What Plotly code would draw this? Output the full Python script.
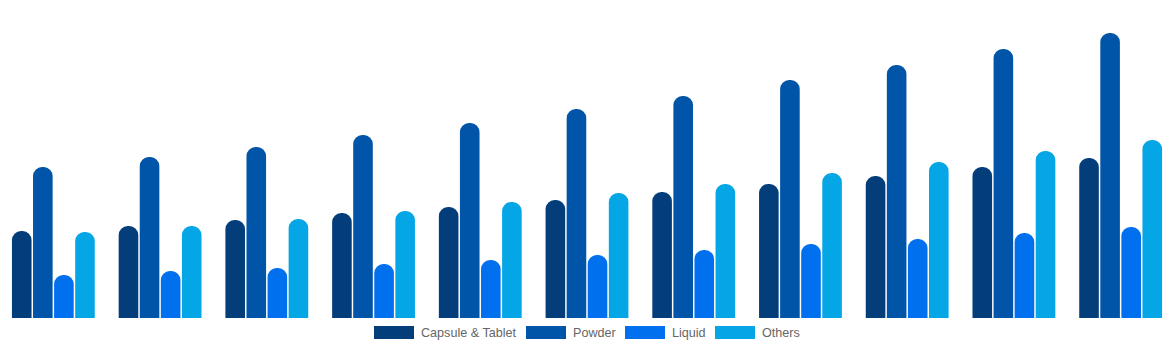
import plotly.graph_objects as go

years = ["2024", "2025", "2026", "2027", "2028", "2029", "2030", "2031", "2032", "2033", "2034"]
capsule_tablet = [8.7, 9.2, 9.8, 10.5, 11.1, 11.8, 12.6, 13.4, 14.2, 15.1, 16.0]
powder = [15.1, 16.1, 17.1, 18.3, 19.5, 20.9, 22.2, 23.8, 25.3, 26.9, 28.5]
liquid = [4.3, 4.7, 5.0, 5.4, 5.8, 6.3, 6.8, 7.4, 7.9, 8.5, 9.1]
others = [8.6, 9.2, 9.9, 10.7, 11.6, 12.5, 13.4, 14.5, 15.6, 16.7, 17.8]

series = [
    ("Capsule & Tablet", capsule_tablet, "#033E7B"),
    ("Powder", powder, "#0155A8"),
    ("Liquid", liquid, "#0170EE"),
    ("Others", others, "#05A6E6"),
]

fig = go.Figure()
for name, vals, col in series:
    fig.add_trace(go.Bar(x=years, y=vals, name=name, marker=dict(color=col, line=dict(width=0)),
                         showlegend=False))

# custom legend (wide swatches)
W = 1174.0
legend_items = [
    ("Capsule & Tablet", "#033E7B", 374, 420),
    ("Powder", "#0155A8", 526, 572),
    ("Liquid", "#0170EE", 625, 671),
    ("Others", "#05A6E6", 715, 761),
]
shapes = []
annotations = []
for name, col, sx, tx in legend_items:
    shapes.append(dict(type="rect", xref="paper", yref="paper",
                       x0=sx / W, x1=(sx + 40) / W,
                       y0=-(326 - 318) / 318.0, y1=-(339 - 318) / 318.0,
                       fillcolor=col, line=dict(width=0)))
    annotations.append(dict(text=name, xref="paper", yref="paper", x=(tx - 1) / W,
                            y=-(332.5 - 318) / 318.0, xanchor="left", yanchor="middle",
                            showarrow=False, font=dict(size=12.6, color="#666666",
                                                       family="Liberation Sans, Arial, sans-serif")))

fig.update_layout(
    width=1174, height=350,
    margin=dict(l=0, r=0, t=0, b=32),
    barmode="group", bargap=0.21, bargroupgap=0.07,
    barcornerradius="50%",
    plot_bgcolor="white", paper_bgcolor="white",
    xaxis=dict(visible=False),
    yaxis=dict(visible=False, range=[0, 31.8]),
    shapes=shapes, annotations=annotations,
    showlegend=False,
)

fig.write_html("out.html")
